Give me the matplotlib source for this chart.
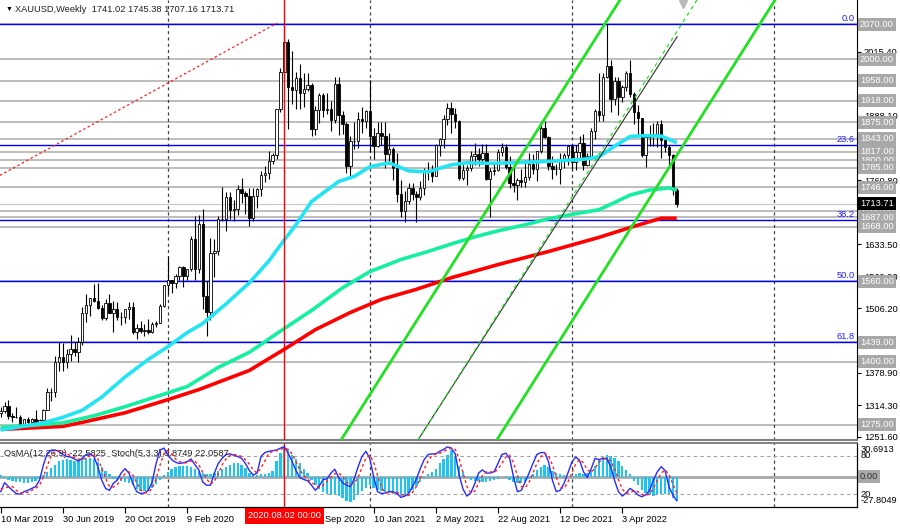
import numpy as np
import pandas as pd
import matplotlib
matplotlib.use("Agg")
import matplotlib.pyplot as plt

plt.rcParams['font.family'] = ['Liberation Sans', 'DejaVu Sans']

####DATA######
# weekly XAUUSD bars, first bar = week of 10 Mar 2019 (open = previous close)
first_open = 1298.0
closes = [1302, 1313, 1292, 1291, 1290, 1276, 1286, 1280, 1286, 1277,
          1284, 1305, 1341, 1341, 1399, 1409, 1399, 1415, 1426, 1419,
          1440, 1497, 1513, 1526, 1520, 1507, 1488, 1516, 1497, 1504,
          1489, 1490, 1504, 1509, 1459, 1468, 1462, 1463, 1460, 1476,
          1478, 1511, 1552, 1562, 1557, 1571, 1589, 1570, 1584, 1643,
          1585, 1674, 1530, 1499, 1617, 1620, 1683, 1683, 1727, 1701,
          1703, 1743, 1735, 1730, 1685, 1730, 1743, 1771, 1775, 1799,
          1810, 1902, 1975, 2035, 1945, 1940, 1964, 1934, 1941, 1950,
          1862, 1900, 1930, 1899, 1902, 1879, 1951, 1889, 1872, 1788,
          1839, 1839, 1881, 1877, 1898, 1849, 1828, 1855, 1848, 1813,
          1823, 1784, 1733, 1700, 1719, 1745, 1733, 1728, 1744, 1777,
          1777, 1769, 1831, 1843, 1881, 1903, 1892, 1877, 1764, 1781,
          1784, 1808, 1812, 1802, 1814, 1763, 1779, 1781, 1817, 1827,
          1787, 1754, 1750, 1761, 1757, 1767, 1792, 1783, 1818, 1864,
          1846, 1788, 1783, 1782, 1798, 1811, 1829, 1797, 1817, 1835,
          1791, 1808, 1859, 1898, 1889, 1966, 1988, 1921, 1958, 1925,
          1946, 1974, 1931, 1896, 1883, 1811, 1846, 1853, 1850, 1871,
          1840, 1827, 1811, 1741.02, 1713.71]
highs = [1311, 1320, 1324, 1298, 1310, 1295, 1287, 1290, 1289, 1304,
         1287, 1306, 1348, 1348, 1411, 1439, 1437, 1426, 1453, 1440,
         1449, 1509, 1535, 1527, 1555, 1557, 1513, 1524, 1535, 1520,
         1518, 1498, 1505, 1518, 1519, 1476, 1482, 1475, 1485, 1480,
         1482, 1514, 1553, 1611, 1563, 1575, 1590, 1591, 1585, 1649,
         1689, 1692, 1703, 1561, 1645, 1644, 1690, 1747, 1738, 1738,
         1722, 1751, 1765, 1739, 1745, 1745, 1745, 1779, 1789, 1818,
         1815, 1902, 1984, 2075, 2040, 2016, 1976, 1992, 1973, 1973,
         1954, 1908, 1933, 1933, 1933, 1917, 1965, 1965, 1897, 1875,
         1848, 1875, 1896, 1906, 1900, 1959, 1864, 1876, 1875, 1875,
         1855, 1827, 1815, 1760, 1740, 1755, 1755, 1740, 1759, 1785,
         1797, 1790, 1832, 1845, 1890, 1913, 1916, 1903, 1879, 1795,
         1790, 1818, 1834, 1825, 1833, 1832, 1785, 1795, 1823, 1834,
         1833, 1808, 1787, 1764, 1782, 1800, 1814, 1813, 1818, 1869,
         1877, 1849, 1808, 1793, 1815, 1815, 1831, 1832, 1830, 1848,
         1853, 1815, 1865, 1902, 1974, 1974, 2070, 1999, 1966, 1966,
         1949, 1978, 1998, 1936, 1909, 1884, 1849, 1870, 1874, 1877,
         1879, 1847, 1830, 1813, 1745.38]
lows = [1290, 1298, 1287, 1281, 1288, 1271, 1266, 1266, 1279, 1275,
        1274, 1282, 1305, 1323, 1331, 1382, 1381, 1388, 1402, 1412,
        1400, 1433, 1480, 1492, 1519, 1505, 1484, 1484, 1497, 1459,
        1484, 1474, 1478, 1486, 1456, 1445, 1457, 1452, 1455, 1457,
        1470, 1477, 1508, 1535, 1536, 1546, 1563, 1548, 1562, 1581,
        1563, 1577, 1505, 1451, 1483, 1568, 1612, 1680, 1660, 1683,
        1680, 1692, 1716, 1693, 1670, 1680, 1705, 1730, 1757, 1763,
        1792, 1802, 1896, 1962, 1863, 1911, 1902, 1902, 1906, 1937,
        1848, 1851, 1873, 1886, 1892, 1859, 1874, 1850, 1853, 1775,
        1764, 1823, 1824, 1855, 1864, 1817, 1802, 1826, 1831, 1785,
        1792, 1760, 1717, 1687, 1677, 1713, 1722, 1677, 1721, 1731,
        1760, 1756, 1769, 1808, 1825, 1869, 1855, 1865, 1761, 1761,
        1750, 1779, 1791, 1789, 1794, 1760, 1687, 1770, 1779, 1809,
        1782, 1745, 1738, 1721, 1746, 1747, 1760, 1772, 1758, 1815,
        1844, 1780, 1762, 1770, 1753, 1785, 1790, 1783, 1780, 1805,
        1780, 1788, 1805, 1842, 1878, 1878, 1964, 1895, 1910, 1890,
        1915, 1937, 1925, 1872, 1850, 1807, 1786, 1828, 1828, 1826,
        1805, 1816, 1785, 1732, 1707.16]

# moving averages: (week index, price)
ma_cyan_wk = [0, 4, 11, 16, 21, 26, 32, 38, 43, 48, 52, 58, 64, 69, 73, 76, 80, 87,
              91, 95, 100, 105, 110, 116, 120, 126, 132, 138, 144, 150, 154, 158,
              162, 166, 170, 174]
ma_cyan = [1265, 1270, 1279, 1290, 1304, 1330, 1370, 1405, 1430, 1458, 1476, 1515,
           1557, 1600, 1642, 1672, 1718, 1758, 1768, 1787, 1795, 1779, 1777, 1791,
           1795, 1794, 1795, 1797, 1799, 1802, 1807, 1828, 1847, 1849, 1848, 1835]
ma_green_wk = [0, 8, 16, 24, 32, 40, 48, 56, 64, 72, 80, 88, 95, 103, 110, 116, 122,
               128, 135, 141, 148, 154, 158, 162, 167, 172, 174]
ma_green = [1270, 1274, 1279, 1293, 1311, 1331, 1351, 1389, 1419, 1461, 1502, 1547,
            1579, 1603, 1619, 1634, 1648, 1660, 1672, 1684, 1694, 1702, 1716, 1731,
            1741, 1745, 1741]
ma_red_wk = [0, 16, 21, 32, 43, 51, 64, 73, 81, 90, 98, 107, 116, 128, 141, 154, 163,
             170, 174]
ma_red = [1266, 1272, 1280, 1299, 1325, 1345, 1383, 1425, 1464, 1498, 1524, 1544,
          1567, 1593, 1619, 1647, 1669, 1685, 1685]

# OsMA(12,26,9) histogram
osma = [1, -1, -3, -4, -5, -5, -6, -6, -5, -4,
        -2, 1, 4, 8, 11, 14, 15, 16, 15, 14,
        15, 16, 17, 17, 16, 13, 9, 5, 2, -2,
        -3, -4, -5, -6, -8, -11, -13, -13, -12, -10,
        -7, -3, 1, 4, 7, 9, 10, 10, 10, 9,
        7, 5, 3, 2, 2, 3, 5, 7, 9, 11,
        12, 12, 11, 8, 3, 2, 1, 2, 2, 3,
        5, 14, 22, 28, 25, 20, 16, 12, 7, 3,
        -3, -8, -11, -14, -16, -17, -16, -18, -20, -22,
        -23, -21, -17, -13, -10, -8, -10, -12, -13, -14,
        -15, -16, -17, -18, -17, -15, -12, -9, -5, -2,
        2, 4, 7, 12, 16, 20, 24, 18, 10, 4,
        -1, -3, -4, -4, -5, -5, -4, -3, -2, 0,
        -1, -3, -5, -6, -6, -5, -2, 2, 6, 9,
        11, 9, 5, 3, 2, 1, 0, 1, 2, 3,
        2, 3, 6, 10, 15, 18, 20, 19, 17, 14,
        10, 6, 2, -4, -8, -12, -15, -17, -18, -17,
        -16, -16, -17, -20, -22.5825]
osma_range = (-27.8049, 30.6913)

# Stochastic(5,3,3) main and signal
stoch_main = [24, 38, 32, 26, 21, 20, 24, 26, 29, 32,
              42, 66, 84, 89, 89, 87, 82, 79, 78, 75,
              72, 76, 82, 83, 79, 63, 42, 29, 26, 37,
              42, 53, 60, 53, 37, 24, 21, 22, 26, 39,
              68, 89, 92, 82, 74, 70, 68, 69, 71, 75,
              66, 58, 39, 34, 34, 53, 68, 76, 82, 83,
              81, 79, 76, 68, 57, 50, 53, 79, 85, 87,
              88, 89, 92, 94, 84, 71, 57, 46, 43, 41,
              34, 26, 33, 43, 44, 53, 59, 46, 38, 34,
              32, 44, 63, 79, 87, 76, 47, 24, 21, 22,
              24, 24, 21, 15, 17, 21, 32, 44, 60, 74,
              82, 83, 83, 87, 90, 94, 92, 83, 50, 28,
              17, 22, 36, 53, 58, 53, 53, 55, 68, 82,
              84, 76, 47, 24, 26, 39, 53, 68, 82, 85,
              85, 71, 42, 24, 26, 37, 53, 70, 78, 73,
              55, 46, 60, 76, 74, 76, 76, 63, 42, 24,
              17, 22, 29, 25, 19, 16, 19, 26, 42, 55,
              63, 57, 32, 19, 9.8749]
stoch_sig = [28, 30, 31, 32, 26, 22, 22, 23, 26, 29,
             34, 47, 64, 80, 87, 88, 86, 83, 80, 77,
             75, 74, 77, 80, 81, 75, 61, 45, 32, 31,
             35, 44, 52, 55, 50, 38, 27, 22, 23, 29,
             44, 65, 83, 88, 83, 75, 71, 69, 69, 72,
             71, 66, 54, 44, 36, 40, 52, 66, 75, 80,
             82, 81, 79, 74, 67, 58, 53, 61, 72, 84,
             87, 88, 90, 92, 90, 83, 71, 58, 49, 43,
             39, 34, 31, 34, 40, 47, 52, 53, 48, 39,
             35, 37, 46, 62, 76, 81, 70, 49, 31, 22,
             22, 23, 23, 20, 18, 18, 23, 32, 45, 59,
             72, 80, 83, 84, 87, 90, 92, 90, 75, 54,
             32, 22, 25, 37, 49, 55, 55, 54, 59, 68,
             78, 81, 69, 49, 32, 30, 39, 53, 68, 78,
             84, 80, 66, 46, 31, 29, 39, 53, 67, 74,
             69, 58, 54, 61, 70, 75, 75, 72, 60, 43,
             28, 21, 23, 25, 24, 20, 18, 20, 29, 41,
             53, 58, 51, 36, 22.0587]

# horizontal levels drawn on the chart
levels = [2070, 2000, 1958, 1918, 1875, 1843, 1817, 1800, 1785, 1746,
          1700, 1687, 1668, 1560, 1439, 1400, 1275]
fib_levels = [2070, 1830, 1682, 1560, 1439]
fib_names = ['0.0', '23.6', '38.2', '50.0', '61.8']
price_ticks = [2015.40, 1951.70, 1888.10, 1824.40, 1760.80, 1697.10, 1633.50,
               1569.90, 1506.20, 1442.50, 1378.90, 1314.30, 1251.60]
# tick labels that sit fully under a level tag are left blank
hidden_ticks = [1951.70, 1824.40, 1697.10, 1442.50]

# drawn objects: (week index pair, price pair)
chan_a = ([87.6, 159.4], [1245, 2118])
chan_b = ([107.4, 174.1], [1245, 2045])
chan_b_ray = ([107.4, 179.2], [1245, 2118])
chan_c = ([127.7, 199.3], [1245, 2118])
red_trend = ([-0.2, 71.1], [1770, 2072])
cursor_date = '2020-08-02'
#--------------------

W, H = 900, 528
fig = plt.figure(figsize=(W / 100, H / 100), dpi=100)

def px_rect(x0, y0, x1, y1):
    return [x0 / W, 1 - y1 / H, (x1 - x0) / W, (y1 - y0) / H]

ax = fig.add_axes(px_rect(0, 0, 857, 440))
ax2 = fig.add_axes(px_rect(0, 443, 857, 507))
st = ax2.twinx()

n = len(closes)
idx = np.arange(n)
c = np.array(closes, float)
hi = np.array(highs, float)
lo = np.array(lows, float)
o = np.r_[first_open, c[:-1]]
up = c >= o

weeks = pd.date_range('2019-03-10', periods=222, freq='7D')
XL = (-0.18, 220.41)
FS = 6.7

# levels and objects
for lv in levels:
    ax.axhline(lv, color='#b8b8b8', lw=1.3, zorder=1)
ax.axhline(c[-1], color='#c8c8c8', lw=0.8, zorder=1)
for lv in fib_levels:
    ax.axhline(lv, color='#0000ff', lw=1.0, zorder=2)

seps = [i for i in range(1, len(weeks)) if weeks[i].year != weeks[i - 1].year]
cur = weeks.get_loc(pd.Timestamp(cursor_date))
for a in (ax, ax2):
    for s in seps:
        a.axvline(s, color='#404040', lw=0.9, ls=(0, (2.5, 2.5)), zorder=1)
    a.axvline(cur, color='#ff0000', lw=1.0, zorder=6)

ax.plot(*red_trend, color='#ff2020', lw=0.9, ls=(0, (2, 2)), zorder=2)

# candles
ax.vlines(idx, lo, hi, color='black', lw=0.8, zorder=3)
ax.bar(idx[up], (c - o)[up], bottom=o[up], width=0.62, facecolor='white',
       edgecolor='black', linewidth=0.6, zorder=4)
ax.bar(idx[~up], (c - o)[~up], bottom=o[~up], width=0.62, facecolor='black',
       edgecolor='black', linewidth=0.6, zorder=4)

# moving averages
ax.plot(ma_red_wk, ma_red, color='#ff0000', lw=2.6, zorder=5, solid_capstyle='butt')
ax.plot(ma_green_wk, ma_green, color='#14f0a0', lw=2.6, zorder=5, solid_capstyle='butt')
ax.plot(ma_cyan_wk, ma_cyan, color='#22e4f2', lw=2.6, zorder=5, solid_capstyle='butt')

# channel
ax.plot(*chan_a, color='#22e022', lw=2.0, zorder=5)
ax.plot(*chan_c, color='#22e022', lw=2.0, zorder=5)
ax.plot(*chan_b, color='#303030', lw=0.8, zorder=5)
ax.plot(*chan_b_ray, color='#22e022', lw=0.9, ls=(0, (3, 3)), zorder=5)

ax.set_xlim(XL)
ax.set_ylim(1245, 2118)
ax.yaxis.tick_right()
ax.set_yticks(price_ticks)
ax.set_yticklabels(['' if v in hidden_ticks else f"{v:.2f}" for v in price_ticks])
ax.tick_params(axis='y', direction='out', length=3, pad=2, labelsize=FS, width=0.8)
ax.tick_params(axis='x', bottom=False, labelbottom=False)
ax.spines['left'].set_visible(False)
ax.spines['top'].set_visible(False)
ax.spines['bottom'].set_color('#808080')
ax.spines['bottom'].set_linewidth(1.5)

ytr = ax.get_yaxis_transform()
for lv in levels:
    ax.text(1.0035, lv, f"{lv:.2f}", transform=ytr, ha='left', va='center',
            fontsize=FS, color='white', clip_on=False, zorder=10,
            bbox=dict(boxstyle='square,pad=0.22', fc='#a8a8a8', ec='none'))
ax.text(1.0035, c[-1], f"{c[-1]:.2f}", transform=ytr, ha='left', va='center',
        fontsize=FS, color='white', clip_on=False, zorder=11,
        bbox=dict(boxstyle='square,pad=0.22', fc='black', ec='none'))
for lv, nm in zip(fib_levels, fib_names):
    ax.text(0.9975, lv + 2, nm, transform=ytr, ha='right', va='bottom',
            fontsize=FS, color='#2020ff', zorder=7)

ax.text(0.006, 0.979, "\u25bc", transform=ax.transAxes, fontsize=5, va='center', ha='left')
ax.text(0.017, 0.979, f"XAUUSD,Weekly  {o[-1]:.2f} {hi[-1]:.2f} {lo[-1]:.2f} {c[-1]:.2f}",
        transform=ax.transAxes, fontsize=FS, va='center', ha='left', color='#202020')
ax.plot(683 / 857, 1 - 4 / 440, marker='v', color='#b8b8b8', ms=6,
        transform=ax.transAxes, clip_on=False, zorder=8)

# OsMA / Stochastic panel
ax2.bar(idx, osma, width=0.6, color='#1ec4f4', zorder=2)
ax2.axhline(0, color='#a8a8a8', lw=2.0, zorder=1)
ax2.set_ylim(*osma_range)
ax2.set_xlim(XL)
st.set_ylim(0, 100)
st.axhline(80, color='#a0a0a0', lw=0.8, ls=(0, (3, 3)), zorder=1)
st.axhline(20, color='#a0a0a0', lw=0.8, ls=(0, (3, 3)), zorder=1)
st.plot(idx, stoch_main, color='#2a2aff', lw=1.0, zorder=4)
st.plot(idx, stoch_sig, color='#ff2020', lw=1.0, ls=(0, (2, 2)), zorder=4)
st.set_yticks([])
ax2.set_yticks([])
for a in (ax2, st):
    a.spines['left'].set_visible(False)
    a.spines['top'].set_color('#808080')
    a.spines['top'].set_linewidth(1.2)

# date labels every 16 weeks; the one fully under the cursor tag is left blank
tick_pos = list(range(0, n, 16))
ax2.set_xticks(tick_pos)
ax2.set_xticklabels(['' if 0 < cur - i < 12 else f"{weeks[i].day} {weeks[i].strftime('%b %Y')}"
                     for i in tick_pos])
for lab in ax2.get_xticklabels():
    lab.set_ha('left')
ax2.tick_params(axis='x', direction='out', length=4, pad=1.5, labelsize=FS, width=0.8)
ax2.text(cur, -0.07, weeks[cur].strftime('%Y.%m.%d 00:00'), transform=ax2.get_xaxis_transform(),
         ha='center', va='top', fontsize=FS, color='white', clip_on=False, zorder=20,
         bbox=dict(boxstyle='square,pad=0.35', fc='#ff0000', ec='none'))

ax2.text(0.005, 0.84, f"OsMA(12,26,9) {osma[-1]:.4f}  Stoch(5,3,3) {stoch_main[-1]:.4f} {stoch_sig[-1]:.4f}",
         transform=ax2.transAxes, fontsize=FS, va='center', ha='left', color='#202020', zorder=10)

st_tr = st.get_yaxis_transform()
st.text(1.004, 97, f"{osma_range[1]:.4f}", transform=st_tr, ha='left', va='top', fontsize=FS, clip_on=False)
st.text(1.004, 80, "80", transform=st_tr, ha='left', va='center', fontsize=FS, clip_on=False)
st.text(1.004, 20, "20", transform=st_tr, ha='left', va='center', fontsize=FS, clip_on=False)
st.text(1.004, 3, f"{osma_range[0]:.4f}", transform=st_tr, ha='left', va='bottom', fontsize=FS, clip_on=False)
ax2.text(1.0035, 0, "0.00", transform=ax2.get_yaxis_transform(), ha='left', va='center',
         fontsize=FS, color='#303030', clip_on=False, zorder=10,
         bbox=dict(boxstyle='square,pad=0.22', fc='#a8a8a8', ec='none'))

fig.savefig('out.png', dpi=100)
